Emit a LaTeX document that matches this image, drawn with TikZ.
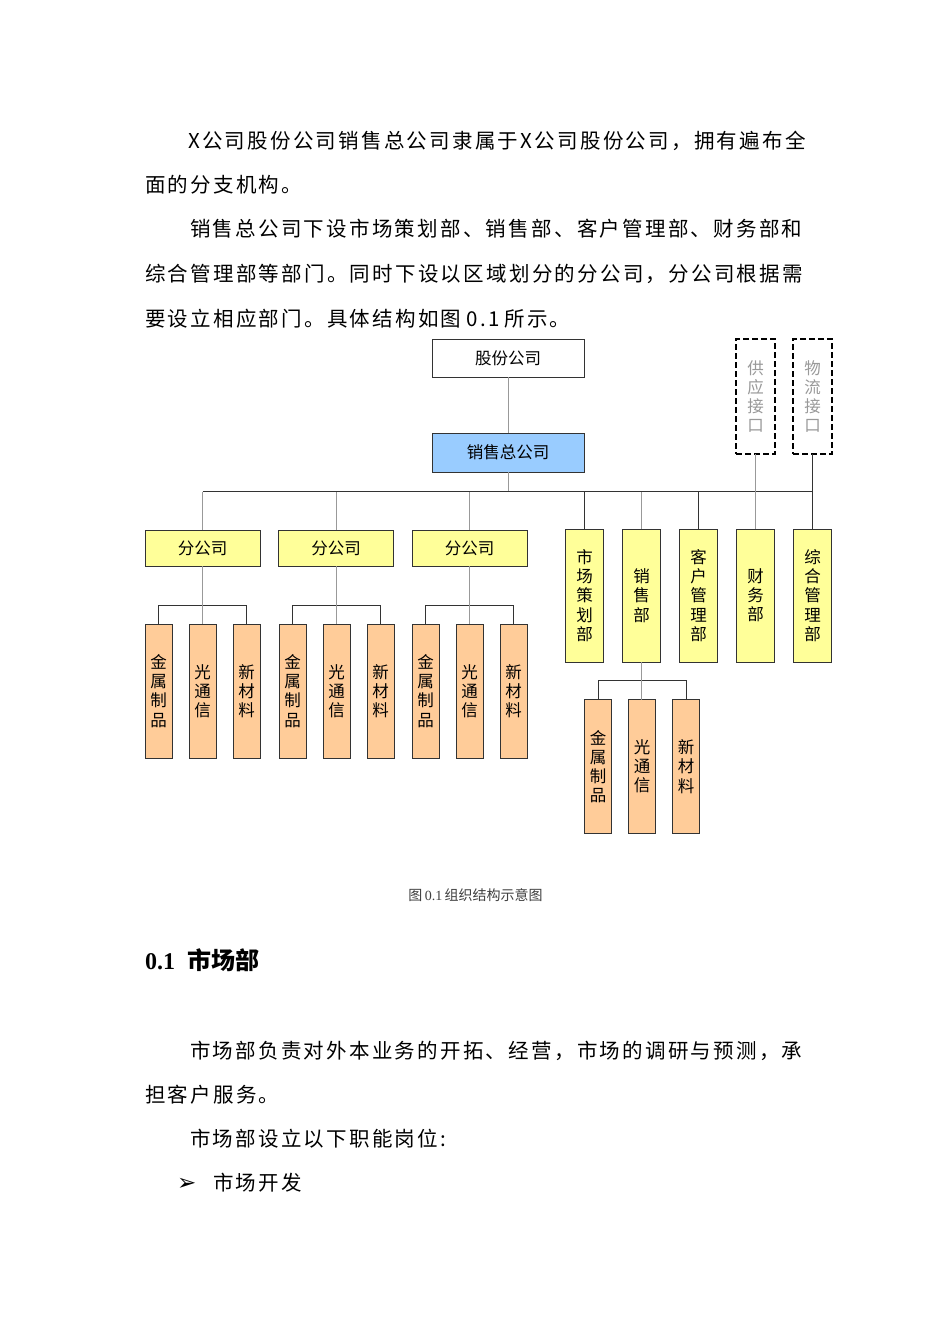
\documentclass[tikz,border=0pt]{standalone}
\usepackage{fontspec}
\setmainfont{Liberation Serif}
\newfontfamily\cjk{Noto Sans CJK SC}
\newfontfamily\dejavu{DejaVu Sans}
\usepackage{xcolor}
\usepackage{tikz}
\usetikzlibrary{positioning}
\definecolor{orgblue}{HTML}{99CCFF}
\definecolor{orgyellow}{HTML}{FFFF99}
\definecolor{orgorange}{HTML}{FFCC99}
\definecolor{orgedge}{HTML}{333333}
\definecolor{orglink}{HTML}{999999}
\tikzset{
  bodyline/.style={anchor=base west, inner sep=0pt, font=\cjk\fontsize{20.5}{24}\selectfont\addfontfeature{LetterSpace=11}},
  orgbox/.style={rectangle, draw=orgedge, line width=0.9pt, inner sep=0pt, outer sep=0pt, align=center, font=\cjk\fontsize{16.5}{19.2}\selectfont},
  topbox/.style={orgbox, fill=white, minimum width=152pt, minimum height=38pt},
  hqbox/.style={orgbox, fill=orgblue, minimum width=152pt, minimum height=39pt},
  branchbox/.style={orgbox, fill=orgyellow, minimum width=115pt, minimum height=36pt},
  deptbox/.style={orgbox, fill=orgyellow, minimum width=38pt, minimum height=133pt},
  prodbox/.style={orgbox, fill=orgorange, minimum width=27pt, minimum height=134pt},
  portbox/.style={orgbox, draw=black, line width=2pt, dash pattern=on 6pt off 3pt, text=orglink, minimum width=39pt, minimum height=115pt},
  link/.style={draw=orglink, line width=1pt},
  bus/.style={draw=orgedge, line width=1pt},
}

\begin{document}
\begin{tikzpicture}[x=1pt,y=-1pt,node distance=17pt]
  \useasboundingbox[fill=white] (0,0) rectangle (950,1344);
  % text above the figure
  \node[bodyline] (para1a) at (188,148) {X公司股份公司销售总公司隶属于X公司股份公司，拥有遍布全};
  \node[bodyline] (para1b) at (145,192) {面的分支机构。};
  \node[bodyline] (para2a) at (190,236) {销售总公司下设市场策划部、销售部、客户管理部、财务部和};
  \node[bodyline] (para2b) at (145,281) {综合管理部等部门。同时下设以区域划分的分公司，分公司根据需};
  \node[bodyline] (para2c) at (145,326) {要设立相应部门。具体结构如图\hspace{5pt}0.1\hspace{5pt}所示。};
  % organisation chart
  \node[topbox] (gfgs) at (508,358) {股份公司};
  \node[hqbox] (xszgs) at (508,452.5) {销售总公司};
  \node[portbox] (gyjk) at (755.5,396.5) {供\\应\\接\\口};
  \node[portbox] (wljk) at (812.5,396.5) {物\\流\\接\\口};
  \node[branchbox] (fgsA) at (202.5,548) {分公司};
  \node[branchbox] (fgsB) at (336,548) {分公司};
  \node[branchbox] (fgsC) at (469.5,548) {分公司};
  \node[deptbox] (scch) at (584.5,595.5) {市\\场\\策\\划\\部};
  \node[deptbox,right=19pt of scch] (xsb) {销\\售\\部};
  \node[deptbox,right=19pt of xsb] (khgl) {客\\户\\管\\理\\部};
  \node[deptbox,right=19pt of khgl] (cwb) {财\\务\\部};
  \node[deptbox,right=19pt of cwb] (zhgl) {综\\合\\管\\理\\部};
  \node[prodbox] (jsA) at (158.5,691) {金\\属\\制\\品};
  \node[prodbox,right=of jsA] (gtA) {光\\通\\信};
  \node[prodbox,right=of gtA] (xcA) {新\\材\\料};
  \node[prodbox] (jsB) at (292.5,691) {金\\属\\制\\品};
  \node[prodbox,right=of jsB] (gtB) {光\\通\\信};
  \node[prodbox,right=of gtB] (xcB) {新\\材\\料};
  \node[prodbox] (jsC) at (425.5,691) {金\\属\\制\\品};
  \node[prodbox,right=of jsC] (gtC) {光\\通\\信};
  \node[prodbox,right=of gtC] (xcC) {新\\材\\料};
  \node[prodbox] (jsD) at (598,766.5) {金\\属\\制\\品};
  \node[prodbox,right=of jsD] (gtD) {光\\通\\信};
  \node[prodbox,right=of gtD] (xcD) {新\\材\\料};
  \coordinate (busL) at (202.5,491.5);
  \coordinate (busR) at (812.5,491.5);
  \draw[link] (gfgs) -- (xszgs);
  \draw[link] (xszgs.south) -- (xszgs.south |- busL);
  \draw[bus] (busL) -- (busR);
  \draw[link] (fgsA.north) -- (fgsA.north |- busL);
  \draw[link] (fgsB.north) -- (fgsB.north |- busL);
  \draw[link] (fgsC.north) -- (fgsC.north |- busL);
  \draw[bus] (scch.north) -- (scch.north |- busL);
  \draw[link] (xsb.north) -- (xsb.north |- busL);
  \draw[bus] (khgl.north) -- (khgl.north |- busL);
  \draw[link] (gyjk) -- (cwb);
  \draw[bus] (wljk) -- (zhgl);
  \draw[bus] (jsA.north) -- ++(0,-19) -| (xcA.north);
  \draw[bus] (jsB.north) -- ++(0,-19) -| (xcB.north);
  \draw[bus] (jsC.north) -- ++(0,-19) -| (xcC.north);
  \draw[bus] (jsD.north) -- ++(0,-19) -| (xcD.north);
  \draw[link] (fgsA.south) -- (fgsA.south |- gtA.north);
  \draw[link] (fgsB.south) -- (fgsB.south |- gtB.north);
  \draw[link] (fgsC.south) -- (fgsC.south |- gtC.north);
  \draw[link] (xsb.south) -- (xsb.south |- gtD.north);
  \node[anchor=base, inner sep=0pt, text=black!75, font=\cjk\fontsize{14}{16}\selectfont] (caption) at (475.5,900) {图\,{\rmfamily 0.1}\,组织结构示意图};
  % section text
  \node[anchor=base west, inner sep=0pt, font=\fontsize{24}{28}\selectfont] (sec) at (145,969) {\textbf{0.1}\hspace{12pt}{\cjk\bfseries 市场部}};
  \node[bodyline] (para3a) at (190,1058) {市场部负责对外本业务的开拓、经营，市场的调研与预测，承};
  \node[bodyline] (para3b) at (145,1102) {担客户服务。};
  \node[bodyline] (para4) at (190,1146) {市场部设立以下职能岗位:};
  \node[anchor=base west, inner sep=0pt, font=\dejavu\fontsize{23}{26}\selectfont] (arrowmark) at (177,1190) {➢};
  \node[bodyline] (item1) at (213,1190) {市场开发};
\end{tikzpicture}
\end{document}
